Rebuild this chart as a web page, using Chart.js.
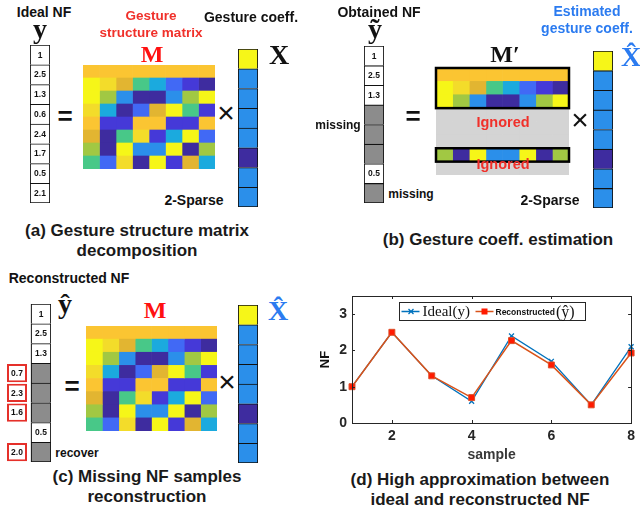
<!DOCTYPE html>
<html>
<head>
<meta charset="utf-8">
<script src="https://cdn.jsdelivr.net/npm/chart.js@4.4.1/dist/chart.umd.min.js"></script>
<style>
  body { margin: 0; background: #fff; }
  #fig { position: relative; width: 640px; height: 512px; overflow: hidden; font-family: "Liberation Sans", Arial, sans-serif; }
  canvas { position: absolute; }
  .t { position: absolute; transform: translate(-50%, -50%); white-space: nowrap; font-weight: bold; font-size: 14px; color: #111; text-align: center; line-height: 1.2; }
  .m { font-family: "Liberation Serif", "DejaVu Serif", serif; }
  .cap { font-size: 17px; line-height: 20px; color: #1a1a1a; }
  .red { color: #f0302a; }
  .blue { color: #2b7bf0; }
  .eq { font-size: 26px; }
  .mul { font-size: 30px; font-weight: normal; }
</style>
</head>
<body>
<div id="fig">
  <!-- (a) -->
  <canvas id="yA" width="20" height="158" style="left:30px;top:45px"></canvas>
  <canvas id="mA" width="132" height="104" style="left:83px;top:65px"></canvas>
  <canvas id="xA" width="20" height="158" style="left:238px;top:49px"></canvas>
  <div class="t" style="left:44px;top:12px">Ideal NF</div>
  <div class="t m" style="left:40px;top:29px;font-size:28px">y</div>
  <div class="t red" style="left:151px;top:24px;font-size:13.5px;line-height:17px">Gesture<br>structure matrix</div>
  <div class="t m" style="left:152px;top:54px;font-size:24px;color:#ff1010">M</div>
  <div class="t" style="left:251px;top:17px">Gesture coeff.</div>
  <div class="t m" style="left:279px;top:55px;font-size:28px">X</div>
  <div class="t eq" style="left:65px;top:117px">=</div>
  <div class="t mul" style="left:226px;top:113px">×</div>
  <div class="t" style="left:194px;top:200px">2-Sparse</div>
  <div class="t cap" style="left:137px;top:241px">(a) Gesture structure matrix<br>decomposition</div>

  <!-- (b) -->
  <canvas id="yB" width="20" height="157" style="left:364px;top:46px"></canvas>
  <canvas id="mB" width="137" height="111" style="left:434px;top:66px"></canvas>
  <canvas id="xB" width="20" height="157" style="left:593px;top:51px"></canvas>
  <div class="t" style="left:379px;top:12px">Obtained NF</div>
  <div class="t m" style="left:375px;top:29px;font-size:28px">ỹ</div>
  <div class="t" style="left:338px;top:125px;font-size:12px">missing</div>
  <div class="t" style="left:411px;top:194px;font-size:12px">missing</div>
  <div class="t eq" style="left:413px;top:117px">=</div>
  <div class="t m" style="left:505px;top:54px;font-size:24px">M′</div>
  <div class="t red" style="left:503px;top:123px;font-size:14.5px">Ignored</div>
  <div class="t red" style="left:503px;top:165px;font-size:14.5px">Ignored</div>
  <div class="t mul" style="left:580px;top:120px">×</div>
  <div class="t blue" style="left:587px;top:20px;line-height:17px">Estimated<br>gesture coeff.</div>
  <div class="t m blue" style="left:631px;top:57px;font-size:28px">X̂</div>
  <div class="t" style="left:550px;top:200px">2-Sparse</div>
  <div class="t cap" style="left:498px;top:240px">(b) Gesture coeff. estimation</div>

  <!-- (c) -->
  <canvas id="yC" width="44" height="158" style="left:7px;top:304px"></canvas>
  <canvas id="mC" width="131" height="105" style="left:86px;top:326px"></canvas>
  <canvas id="xC" width="20" height="158" style="left:238px;top:305px"></canvas>
  <div class="t" style="left:69px;top:278px">Reconstructed NF</div>
  <div class="t m" style="left:65px;top:304px;font-size:28px">ŷ</div>
  <div class="t m" style="left:155px;top:310px;font-size:24px;color:#ff1010">M</div>
  <div class="t eq" style="left:72px;top:387px">=</div>
  <div class="t mul" style="left:227px;top:382px">×</div>
  <div class="t m blue" style="left:278px;top:311px;font-size:28px">X̂</div>
  <div class="t" style="left:77px;top:453px;font-size:12px">recover</div>
  <div class="t cap" style="left:147px;top:487px">(c) Missing NF samples<br>reconstruction</div>

  <!-- (d) -->
  <canvas id="nf" width="324" height="190" style="left:316px;top:280px"></canvas>
  <div class="t cap" style="left:480px;top:490px">(d) High approximation between<br>ideal and reconstructed NF</div>
</div>

<script>
// sample index 1..8
const samples = [1, 2, 3, 4, 5, 6, 7, 8];
// NF values
const idealNF = [1, 2.5, 1.3, 0.6, 2.4, 1.7, 0.5, 2.1];
const obtainedNF = [1, 2.5, 1.3, null, null, null, 0.5, null];
const recoveredNF = [null, null, null, 0.7, 2.3, 1.6, null, 2.0];
const reconNF = [1, 2.5, 1.3, 0.7, 2.27, 1.6, 0.5, 1.93];
// gesture structure matrix, as colour levels 0..10
const M = [
  [8, 8, 8, 8, 8, 8, 8, 8],
  [10, 9, 7, 5, 4, 2, 1, 0],
  [10, 6, 3, 0, 0, 3, 6, 10],
  [9, 4, 0, 2, 7, 10, 5, 1],
  [8, 1, 1, 8, 8, 1, 1, 8],
  [7, 0, 5, 9, 1, 4, 10, 2],
  [6, 0, 10, 3, 3, 10, 0, 6],
  [5, 2, 9, 0, 10, 1, 7, 4]
];
const coeffX = [10, 3, 3, 3, 3, 0, 3, 3];
const keptRows = [[0, 2], [6, 6]];
const xTicks = [2, 4, 6, 8];
const yTicks = [0, 1, 2, 3];

const parula = ['#3e2c9f', '#4539d8', '#4169f5', '#2b8fea', '#1baade', '#48c888',
  '#a1c843', '#e2b531', '#fbc532', '#f3dc2a', '#f6f618'];
const SANS = '"Liberation Sans", Arial, sans-serif';
const SERIF = '"Liberation Serif", "DejaVu Serif", serif';

const cellText = {
  id: 'cellText',
  afterDatasetsDraw(chart) {
    const ctx = chart.ctx;
    ctx.save();
    ctx.font = 'bold 8.5px ' + SANS;
    ctx.fillStyle = '#111';
    ctx.textAlign = 'center';
    ctx.textBaseline = 'middle';
    chart.data.datasets.forEach((ds, di) => {
      if (!ds.text) return;
      chart.getDatasetMeta(di).data.forEach((bar, i) => {
        if (ds.text[i] == null) return;
        const p = bar.getCenterPoint();
        ctx.fillText(ds.text[i], p.x, p.y + 0.5);
      });
    });
    ctx.restore();
  }
};

const keptBoxes = {
  id: 'keptBoxes',
  afterDatasetsDraw(chart) {
    const { ctx, chartArea: a, scales: { y } } = chart;
    const band = y.getPixelForValue(1) - y.getPixelForValue(0);
    ctx.save();
    ctx.strokeStyle = '#000';
    ctx.lineWidth = 2.5;
    keptRows.forEach(([r0, r1]) => {
      const top = y.getPixelForValue(r0) - band / 2;
      const bot = y.getPixelForValue(r1) + band / 2;
      ctx.strokeRect(a.left, top, a.right - a.left, bot - top);
    });
    ctx.restore();
  }
};

const quiet = { legend: { display: false }, tooltip: { enabled: false } };

function matrix(id, colorAt, pad, extra) {
  const datasets = M[0].map((_, c) => ({
    data: M.map(() => 1),
    backgroundColor: M.map((row, r) => colorAt(r, c)),
    borderWidth: 0,
    barPercentage: 1,
    categoryPercentage: 1
  }));
  return new Chart(document.getElementById(id), {
    type: 'bar',
    data: { labels: M.map((_, r) => 'r' + r), datasets },
    options: {
      indexAxis: 'y', responsive: false, animation: false, events: [],
      layout: { padding: pad },
      plugins: quiet,
      scales: {
        x: { stacked: true, min: 0, max: M[0].length, display: false },
        y: { stacked: true, display: false }
      }
    },
    plugins: extra
  });
}

const lastRow = samples.length - 1;
function cells(fills, text) {
  return {
    data: samples.map(() => [0, 1]),
    backgroundColor: fills,
    borderColor: '#111',
    borderWidth: c => ({ top: 1.2, left: 1.2, right: 1.2, bottom: c.dataIndex === lastRow ? 1.2 : 0 }),
    borderSkipped: false,
    barPercentage: 1, categoryPercentage: 1, grouped: false,
    text
  };
}

function column(id, datasets, xmin) {
  return new Chart(document.getElementById(id), {
    type: 'bar',
    data: { labels: samples.map(String), datasets },
    options: {
      indexAxis: 'y', responsive: false, animation: false, events: [],
      layout: { padding: 0 },
      plugins: quiet,
      scales: { x: { min: xmin, max: 1, display: false }, y: { display: false } }
    },
    plugins: [cellText]
  });
}

const nfFill = vals => vals.map(v => v == null ? '#8c8c8c' : '#ffffff');
const nfText = vals => vals.map(v => v == null ? null : String(v));
const coeffFill = coeffX.map(v => parula[v]);

// (a)
column('yA', [cells(nfFill(idealNF), nfText(idealNF))], 0);
matrix('mA', (r, c) => parula[M[r][c]], 0, []);
column('xA', [cells(coeffFill)], 0);

// (b)
const kept = r => keptRows.some(([a, b]) => r >= a && r <= b);
column('yB', [cells(nfFill(obtainedNF), nfText(obtainedNF))], 0);
matrix('mB', (r, c) => kept(r) ? parula[M[r][c]] : '#d4d4d4', 2, [keptBoxes]);
column('xB', [cells(coeffFill)], 0);

// (c)
column('yC', [
  cells(nfFill(obtainedNF), nfText(obtainedNF)),
  {
    data: recoveredNF.map(v => v == null ? null : [-1.2, -0.2]),
    backgroundColor: '#ffffff', borderColor: '#e5302a', borderWidth: 2, borderSkipped: false,
    barPercentage: 0.93, categoryPercentage: 1, grouped: false,
    text: recoveredNF.map(v => v == null ? null : v.toFixed(1))
  }
], -1.2);
matrix('mC', (r, c) => parula[M[r][c]], 0, []);
column('xC', [cells(coeffFill)], 0);

// (d) line chart
const axisBox = {
  id: 'axisBox',
  afterDraw(chart) {
    const { ctx, chartArea: a, scales: { x, y } } = chart;
    ctx.save();
    ctx.strokeStyle = '#262626';
    ctx.lineWidth = 1;
    ctx.strokeRect(Math.round(a.left) + 0.5, Math.round(a.top) + 0.5,
      Math.round(a.right - a.left), Math.round(a.bottom - a.top));
    ctx.beginPath();
    xTicks.forEach(v => {
      const px = Math.round(x.getPixelForValue(v)) + 0.5;
      ctx.moveTo(px, a.bottom); ctx.lineTo(px, a.bottom - 3);
      ctx.moveTo(px, a.top); ctx.lineTo(px, a.top + 3);
    });
    yTicks.forEach(v => {
      const py = Math.round(y.getPixelForValue(v)) + 0.5;
      ctx.moveTo(a.left, py); ctx.lineTo(a.left + 3, py);
      ctx.moveTo(a.right, py); ctx.lineTo(a.right - 3, py);
    });
    ctx.stroke();

    // legend
    const w = 186, h = 18;
    const L = Math.round((a.left + a.right - w) / 2) + 0.5;
    const T = Math.round(a.top + 6) + 0.5;
    const cy = T + h / 2;
    ctx.fillStyle = '#fff';
    ctx.fillRect(L, T, w, h);
    ctx.strokeStyle = '#262626';
    ctx.strokeRect(L, T, w, h);
    ctx.lineWidth = 1.3;
    ctx.strokeStyle = '#0072bd';
    ctx.beginPath();
    ctx.moveTo(L + 2, cy); ctx.lineTo(L + 20, cy);
    ctx.moveTo(L + 9, cy - 2.5); ctx.lineTo(L + 14, cy + 2.5);
    ctx.moveTo(L + 9, cy + 2.5); ctx.lineTo(L + 14, cy - 2.5);
    ctx.stroke();
    ctx.fillStyle = '#111';
    ctx.textBaseline = 'middle';
    ctx.font = '15px ' + SERIF;
    ctx.fillText('Ideal(y)', L + 23, cy + 1);
    ctx.strokeStyle = '#d95319';
    ctx.lineWidth = 1.5;
    ctx.beginPath();
    ctx.moveTo(L + 76, cy); ctx.lineTo(L + 94, cy);
    ctx.stroke();
    ctx.fillStyle = '#ff1a00';
    ctx.fillRect(L + 82, cy - 3, 6, 6);
    ctx.fillStyle = '#111';
    ctx.font = 'bold 8.5px ' + SANS;
    ctx.fillText('Reconstructed', L + 96, cy + 1);
    const rw = ctx.measureText('Reconstructed').width;
    ctx.font = '16px ' + SERIF;
    ctx.fillText('(ŷ)', L + 97 + rw, cy + 1);
    ctx.restore();
  }
};

const tickFont = { family: SANS, size: 14, weight: 'bold' };
new Chart(document.getElementById('nf'), {
  type: 'line',
  data: {
    datasets: [
      {
        label: 'Ideal(y)',
        data: samples.map((s, i) => ({ x: s, y: idealNF[i] })),
        borderColor: '#0072bd', backgroundColor: '#0072bd', borderWidth: 1.3,
        pointStyle: 'crossRot', pointRadius: 3.5, pointBorderWidth: 1.3,
        clip: false, order: 1
      },
      {
        label: 'Reconstructed(ŷ)',
        data: samples.map((s, i) => ({ x: s, y: reconNF[i] })),
        borderColor: '#d95319', borderWidth: 1.5,
        pointStyle: 'rect', pointRadius: 4.2, pointBorderWidth: 1,
        pointBackgroundColor: '#ff1a00', pointBorderColor: '#e0502a',
        clip: false, order: 0
      }
    ]
  },
  options: {
    responsive: false, animation: false, events: [],
    layout: { padding: { top: 16, right: 5, left: 0, bottom: 0 } },
    plugins: quiet,
    scales: {
      x: {
        type: 'linear', min: 1, max: 8,
        afterBuildTicks: s => { s.ticks = xTicks.map(v => ({ value: v })); },
        afterFit: s => { s.height = 47; },
        grid: { display: false, drawTicks: false },
        border: { display: false },
        ticks: { font: tickFont, color: '#262626', padding: 5, maxRotation: 0 },
        title: { display: true, text: 'sample', font: tickFont, color: '#383838', padding: { top: 0, bottom: 6 } }
      },
      y: {
        min: 0, max: 3.5,
        afterBuildTicks: s => { s.ticks = yTicks.map(v => ({ value: v })); },
        afterFit: s => { s.width = 36; },
        grid: { display: false, drawTicks: false },
        border: { display: false },
        ticks: { font: tickFont, color: '#262626', padding: 5 },
        title: { display: true, text: 'NF', font: { family: SANS, size: 13, weight: 'bold' }, color: '#111', padding: { top: 2, bottom: 0 } }
      }
    }
  },
  plugins: [axisBox]
});
</script>
</body>
</html>
